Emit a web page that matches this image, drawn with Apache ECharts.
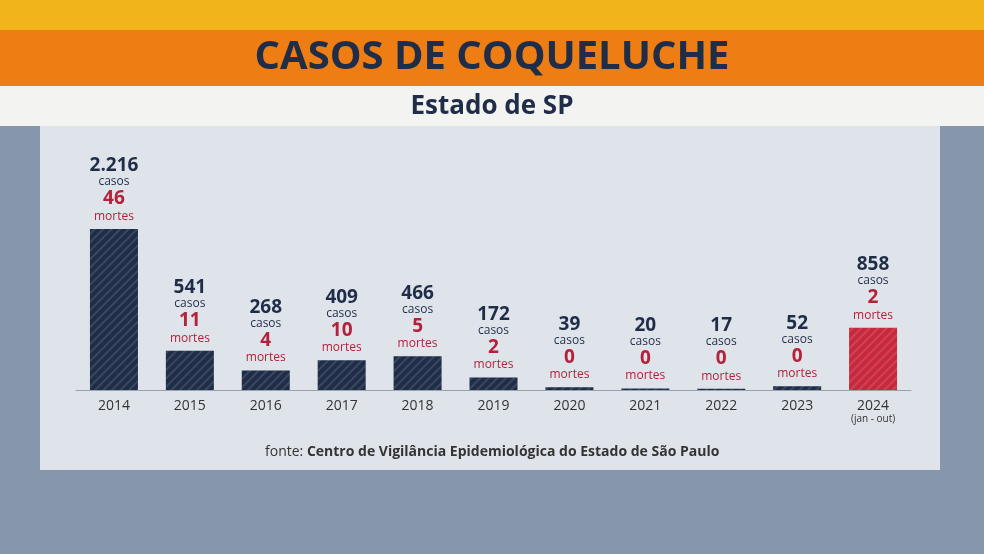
<!DOCTYPE html>
<html><head><meta charset="utf-8">
<script src="https://cdn.jsdelivr.net/npm/echarts@6/dist/echarts.min.js"></script>
<style>html,body{margin:0;padding:0;background:#8797ab}#c{width:984px;height:554px}</style>
</head><body><div id="c"></div>
<script>
const years = ['2014','2015','2016','2017','2018','2019','2020','2021','2022','2023','2024'];
const casesLabels = ['2.216','541','268','409','466','172','39','20','17','52','858'];
const cases = [2216,541,268,409,466,172,39,20,17,52,858];
const deaths = [46,11,4,10,5,2,0,0,0,0,2];
const title = 'CASOS DE COQUELUCHE';
const subtitle = 'Estado de SP';
const source = 'Centro de Vigilância Epidemiológica do Estado de São Paulo';

const chart = echarts.init(document.getElementById('c'));
const font = '"Open Sans", "Noto Sans", sans-serif';
const navy = '#1f2d48', red = '#b3213a';
chart.setOption({
  backgroundColor: '#8797ab',
  textStyle: {fontFamily: font},
  graphic: [
    {type:'rect', shape:{x:0,y:0,width:984,height:30}, style:{fill:'#f2b41b'}, z:-10},
    {type:'rect', shape:{x:0,y:30,width:984,height:56}, style:{fill:'#ee7d14'}, z:-10},
    {type:'rect', shape:{x:0,y:86,width:984,height:40}, style:{fill:'#f3f3f1'}, z:-10},
    {type:'rect', shape:{x:40,y:126,width:900,height:344}, style:{fill:'#dfe4ea'}, z:-10},
    {type:'text', x:492, y:58, style:{text:title, fill:navy, font:'bold 40px '+font, textAlign:'center', textVerticalAlign:'middle'}},
    {type:'text', x:492, y:107, style:{text:subtitle, fill:navy, font:'bold 26px '+font, textAlign:'center', textVerticalAlign:'middle'}},
    {type:'text', x:265, y:452, style:{rich:{a:{fill:'#333',fontSize:14,fontFamily:font},b:{fill:'#333',fontSize:14,fontWeight:'bold',fontFamily:font}}, text:'{a|fonte: }{b|'+source+'}', textVerticalAlign:'middle'}}
  ],
  grid: {left:76, right:73, top:229, bottom:164},
  xAxis: {type:'category', data:years, axisTick:{show:false},
    axisLine:{lineStyle:{color:'#9aa3ad'}},
    axisLabel:{interval:0, color:'#333', fontSize:14, margin:10, lineHeight:13,
      formatter:(v)=> v==='2024' ? v+'\n{s|(jan - out)}' : v,
      rich:{s:{fontSize:10,color:'#333'}}}},
  yAxis: {type:'value', min:0, max:2216, show:false, splitLine:{show:false}},
  series: [{type:'bar', barWidth:48,
    data: cases.map((v,i)=>({value:v, itemStyle:{color: i===10?'#c8283e':navy}})),
    itemStyle:{decal:{symbol:'rect', symbolSize:1, dashArrayX:[1,0], dashArrayY:[2,4], rotation:-Math.PI/4, color:'rgba(255,255,255,0.12)'}},
    label:{show:true, position:'top', distance:6, align:'center',
      formatter:(p)=>'{n|'+casesLabels[p.dataIndex]+'}\n{c|casos}\n{d|'+deaths[p.dataIndex]+'}\n{m|mortes}',
      rich:{n:{fontSize:19,fontWeight:'bold',color:navy,lineHeight:20},
            c:{fontSize:12,color:navy,lineHeight:12},
            d:{fontSize:19,fontWeight:'bold',color:red,lineHeight:22},
            m:{fontSize:12,color:red,lineHeight:13}}}
  }]
});
</script></body></html>
